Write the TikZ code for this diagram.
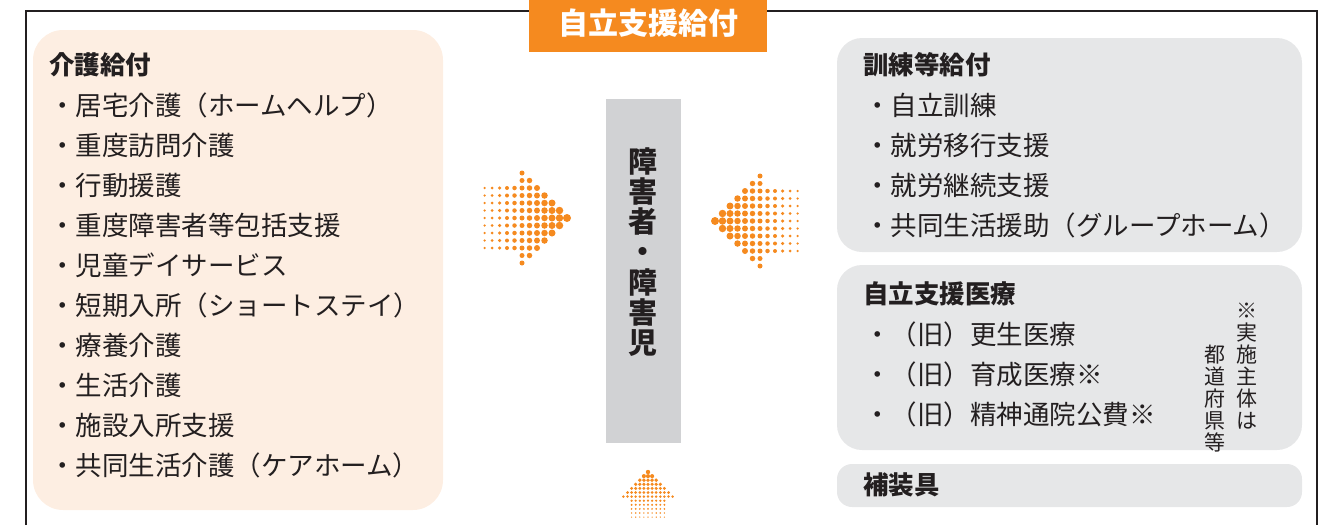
\documentclass[tikz,border=0pt]{standalone}
\usepackage{fontspec}
\setmainfont{Noto Sans CJK JP}
\definecolor{jiritsu}{HTML}{F58A1F}
\definecolor{kaigo}{HTML}{FDEEE2}
\definecolor{kunren}{HTML}{E6E7E8}
\definecolor{barcol}{HTML}{D1D2D4}
\definecolor{moji}{HTML}{231F20}
% dot arrow: tip x, tip y, step back x, step back y, dot scale
\newcommand{\dotarrow}[5]{%
  \foreach \k in {0,...,11}{%
    \pgfmathtruncatemacro{\h}{\k<7 ? \k : 4}%
    \foreach \j in {-\h,...,\h}
      \fill[jiritsu] ({#1+(#3)*\k+(#4)*\j},{#2+(#4)*\k+(#3)*\j}) circle ({(#5)*(4-0.25*\k)});
  }%
}
\begin{document}
\begin{tikzpicture}[x=1pt, y=-1pt,
    midashi/.style={anchor=west, inner sep=0pt, text height=22pt, text depth=3pt, text=moji, font=\fontsize{25.5}{25.5}\selectfont\bfseries},
    koumoku/.style={midashi, text height=23.3pt, text depth=3.2pt, font=\fontsize{26.5}{26.5}\selectfont},
    tate/.style={align=center, inner sep=0pt, text=moji}]
    \useasboundingbox (0,0) rectangle (1327,525);
    %外枠
    \draw[moji, line width=1.2pt] (26,525)--(26,11)--(1317,11)--(1317,525);
    %自立支援給付
    \fill[jiritsu] (529,0) rectangle (767,52);
    \node[text=white, inner sep=0pt, font=\fontsize{30}{30}\selectfont\bfseries] (kyufu) at (648,23) {自立支援給付};
    %介護給付
    \fill[kaigo, rounded corners=30] (33,30) rectangle (443,510);
    \node[midashi] (kaigo) at (49,65) {介護給付};
    \foreach \t [count=\n] in {居宅介護（ホームヘルプ）, 重度訪問介護, 行動援護, 重度障害者等包括支援, 児童デイサービス, 短期入所（ショートステイ）, 療養介護, 生活介護, 施設入所支援, 共同生活介護（ケアホーム）}
        \node[koumoku] (kaigo\n) at (49,{65+40*\n}) {・\t};
    %訓練等給付
    \fill[kunren, rounded corners=25] (837,38) rectangle (1302,252);
    \node[midashi] (kunren) at (863,65) {訓練等給付};
    \foreach \t [count=\n] in {自立訓練, 就労移行支援, 就労継続支援, 共同生活援助（グループホーム）}
        \node[koumoku] (kunren\n) at (864,{65+40*\n}) {・\t};
    %自立支援医療
    \fill[kunren, rounded corners=25] (837,265) rectangle (1302,450);
    \node[midashi] (iryou) at (863,294) {自立支援医療};
    \foreach \t [count=\n] in {（旧）更生医療, （旧）育成医療※, （旧）精神通院公費※}
        \node[koumoku] (iryou\n) at (864,{294+40*\n}) {・\t};
    \node[tate, font=\fontsize{21}{22}\selectfont] (chuu1) at (1247,366) {※\\実\\施\\主\\体\\は};
    \node[tate, font=\fontsize{21}{22}\selectfont] (chuu2) at (1215,399) {都\\道\\府\\県\\等};
    %補装具
    \fill[kunren, rounded corners=15] (837,464) rectangle (1302,507);
    \node[midashi] (hosougu) at (863,485) {補装具};
    %障害者・障害児
    \fill[barcol] (606,99) rectangle (681,443);
    \node[tate, font=\fontsize{29}{30.3}\selectfont\bfseries] (shogai) at (643,252) {障\\害\\者\\・\\障\\害\\児};
    %矢印
    \dotarrow{567}{218}{-7.5}{0}{1}
    \dotarrow{715}{221}{7.5}{0}{1}
    \dotarrow{648}{472}{0}{4.1}{0.55}
\end{tikzpicture}
\end{document}
